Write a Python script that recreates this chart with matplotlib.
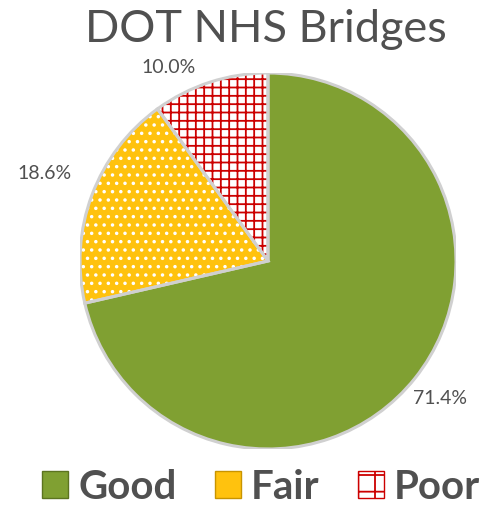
import matplotlib
matplotlib.use("Agg")
from matplotlib import pyplot as plt
from matplotlib.patches import Patch, Wedge
import numpy as np

categories = ["Good", "Fair", "Poor"]
shares = [71.4, 18.6, 10.0]
pct_labels = ["71.4%", "18.6%", "10.0%"]

face_colors = ["#80a032", "#ffc20e", "#ffffff"]
hatch_colors = ["#80a032", "#ffffff", "#cc0000"]
hatches = [None, "..", "++"]
text_gray = "#505050"

plt.rcParams["font.family"] = ["Lato", "DejaVu Sans"]
plt.rcParams["hatch.linewidth"] = 1.3

fig = plt.figure(figsize=(4.91, 5.06), dpi=100)
ax = fig.add_axes([80 / 491, 56 / 506, 376 / 491, 376 / 506])

wedges, _ = ax.pie(shares, startangle=90, counterclock=False, radius=1.0,
                   wedgeprops=dict(linewidth=0))
for w, fc, hc, h in zip(wedges, face_colors, hatch_colors, hatches):
    w.set_facecolor(fc)
    w.set_edgecolor(hc)
    if h:
        w.set_hatch(h)
    # light outline on top, like the bevel in the original
    ax.add_patch(Wedge(w.center, w.r, w.theta1, w.theta2, facecolor="none",
                       edgecolor="#d0d0d0", linewidth=2.2))

# labels placed outside each slice at mid angle
label_r = [1.17, 1.28, 1.16]
angle_shift = [0, -1, 9]
for w, txt, r, da in zip(wedges, pct_labels, label_r, angle_shift):
    mid = np.deg2rad((w.theta1 + w.theta2) / 2 + da)
    ax.text(r * np.cos(mid), r * np.sin(mid), txt, ha="center", va="center",
            fontsize=14, color=text_gray)

ax.set_xlim(-1, 1)
ax.set_ylim(-1, 1)
ax.set_aspect("equal")
ax.axis("off")

fig.text(0.542, 0.942, "DOT NHS Bridges", ha="center", va="center",
         fontsize=32.5, color=text_gray)

handles = [Patch(facecolor=fc, hatch=h) for fc, h in zip(face_colors, hatches)]
handles[0].set_edgecolor("#5c7420")
handles[1].set_hatch(None)
handles[1].set_edgecolor("#c89400")
handles[2].set_edgecolor("#cc0000")
handles[2].set_hatch("+")
fig.legend(handles, categories, loc="center", bbox_to_anchor=(0.532, 0.036),
           ncol=3, frameon=False, handlelength=0.65, handleheight=0.65,
           handletextpad=0.25, columnspacing=0.95,
           prop=dict(weight="bold", size=29),
           labelcolor=text_gray)

fig.savefig("out.png", dpi=100)
